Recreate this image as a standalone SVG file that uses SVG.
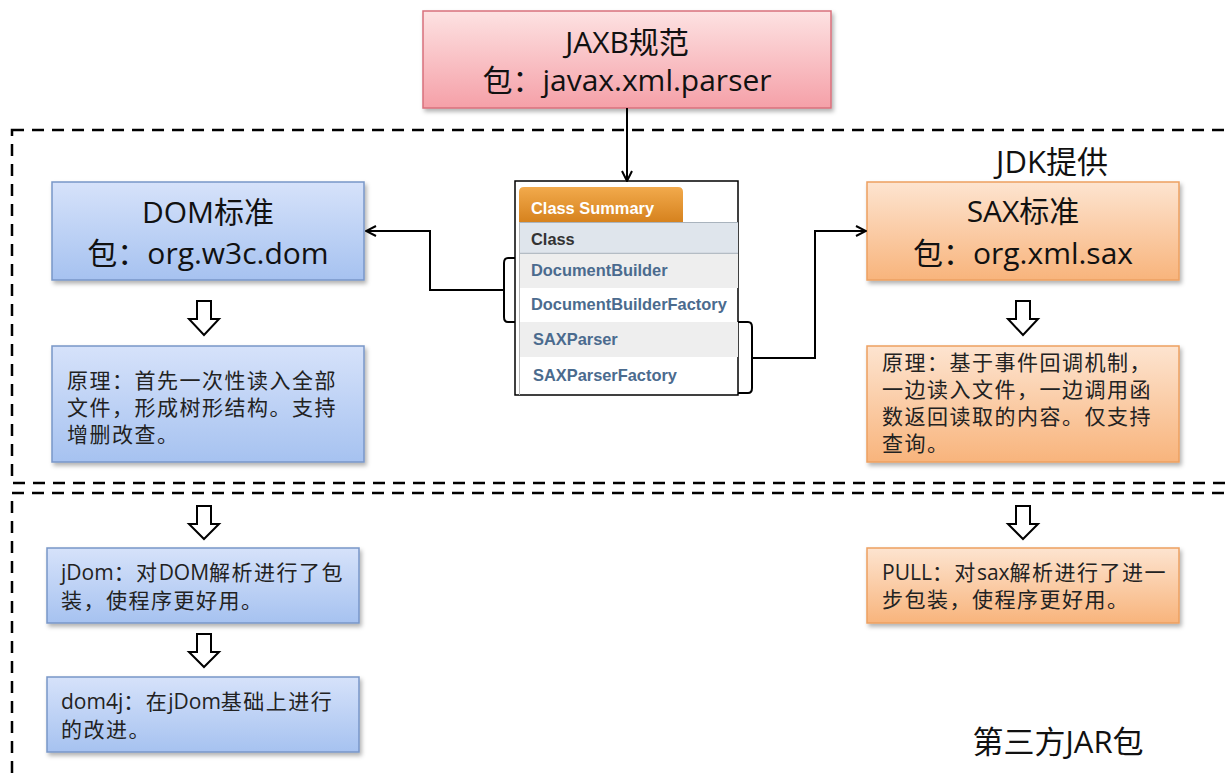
<svg xmlns="http://www.w3.org/2000/svg" width="1230" height="781" viewBox="0 0 1230 781">
  <style>
    .zone { fill: none; stroke: #000; stroke-width: 2.5; stroke-dasharray: 12 8; }
    .title { font-family: "Open Sans", "Noto Sans CJK SC", sans-serif; font-size: 30px; fill: #111; text-anchor: middle; }
    .label { font-family: "Open Sans", "Noto Sans CJK SC", sans-serif; font-size: 31px; fill: #111; text-anchor: middle; }
    .body { font-family: "Open Sans", "Noto Sans CJK SC", sans-serif; font-size: 21px; fill: #222; letter-spacing: 1.5px; }
    .body .lat { letter-spacing: 0; }
    .blue { fill: url(#gBlue); stroke: #7896c8; stroke-width: 1.5; filter: url(#shadow); }
    .orange { fill: url(#gOrange); stroke: #eda060; stroke-width: 1.5; filter: url(#shadow); }
    .pink { fill: url(#gPink); stroke: #d8707c; stroke-width: 1.5; filter: url(#shadow); }
    .wire { fill: none; stroke: #000; stroke-width: 2; }
    .hollow { fill: #fff; stroke: #000; stroke-width: 2; stroke-linejoin: miter; }
    .cls { font-family: "Liberation Sans", Arial, sans-serif; font-weight: bold; font-size: 16.4px; fill: #4b6b8e; }
  </style>
  <defs>
    <linearGradient id="gBlue" x1="0" y1="0" x2="0" y2="1">
      <stop offset="0" stop-color="#d6e2fa"/>
      <stop offset="1" stop-color="#a6c2f0"/>
    </linearGradient>
    <linearGradient id="gOrange" x1="0" y1="0" x2="0" y2="1">
      <stop offset="0" stop-color="#fde4d0"/>
      <stop offset="1" stop-color="#f8b47c"/>
    </linearGradient>
    <linearGradient id="gPink" x1="0" y1="0" x2="0" y2="1">
      <stop offset="0" stop-color="#fde2e2"/>
      <stop offset="1" stop-color="#f5a0a8"/>
    </linearGradient>
    <linearGradient id="gTab" x1="0" y1="0" x2="0" y2="1">
      <stop offset="0" stop-color="#f2aa4c"/>
      <stop offset="1" stop-color="#d6821e"/>
    </linearGradient>
    <filter id="shadow" x="-5%" y="-5%" width="115%" height="125%">
      <feDropShadow dx="2" dy="3" stdDeviation="2" flood-color="#000" flood-opacity="0.3"/>
    </filter>
    <marker id="arrow" viewBox="0 0 12 12" refX="11" refY="6" markerWidth="12" markerHeight="12" markerUnits="userSpaceOnUse" orient="auto">
      <path d="M1,1 L11,6 L1,11" fill="none" stroke="#000" stroke-width="2"/>
    </marker>
  </defs>

  <rect width="1230" height="781" fill="#fff"/>

  <!-- dashed zones: JDK-provided and third-party -->
  <rect class="zone" x="12" y="130" width="1240" height="353"/>
  <rect class="zone" x="12" y="493" width="1240" height="400"/>
  <text class="label" x="1052" y="173" font-size="30">JDK提供</text>
  <text class="label" x="1058" y="753">第三方JAR包</text>

  <!-- JAXB specification -->
  <g id="jaxb">
    <rect class="pink" x="423" y="11" width="408" height="97"/>
    <text class="title" x="627" y="53">JAXB规范</text>
    <text class="title" x="627" y="91">包：javax.xml.parser</text>
  </g>

  <!-- Class summary table -->
  <g id="class-summary">
    <rect x="515" y="181" width="223" height="214" fill="#fff" stroke="#000" stroke-width="1.5"/>
    <path d="M519,222 V192 Q519,187 524,187 H678 Q683,187 683,192 V222 Z" fill="url(#gTab)"/>
    <text x="531" y="214" font-family="Liberation Sans, Arial, sans-serif" font-weight="bold" font-size="16.4" fill="#fff">Class Summary</text>
    <rect x="520" y="222" width="218" height="32" fill="#dfe5ec"/>
    <line x1="520" y1="222.5" x2="738" y2="222.5" stroke="#a9b3bd" stroke-width="1"/>
    <line x1="520" y1="253.5" x2="738" y2="253.5" stroke="#b4bcc4" stroke-width="1.5"/>
    <text x="531" y="245" font-family="Liberation Sans, Arial, sans-serif" font-weight="bold" font-size="16.4" fill="#333">Class</text>
    <rect x="520" y="254" width="218" height="34" fill="#eeeeee"/>
    <rect x="520" y="322" width="218" height="35" fill="#eeeeee"/>
    <line x1="519.5" y1="222" x2="519.5" y2="395" stroke="#b8b8b8" stroke-width="1"/>
    <text class="cls" x="531" y="276">DocumentBuilder</text>
    <text class="cls" x="531" y="310">DocumentBuilderFactory</text>
    <text class="cls" x="533" y="345">SAXParser</text>
    <text class="cls" x="533" y="381">SAXParserFactory</text>
  </g>

  <!-- DOM branch -->
  <g id="dom">
    <rect class="blue" x="52" y="182" width="312" height="98"/>
    <text class="title" x="208" y="223">DOM标准</text>
    <text class="title" x="208" y="264">包：org.w3c.dom</text>
  </g>
  <g id="dom-principle">
    <rect class="blue" x="52" y="346" width="312" height="116"/>
    <text class="body" x="67" y="388">原理：首先一次性读入全部</text>
    <text class="body" x="67" y="415">文件，形成树形结构。支持</text>
    <text class="body" x="67" y="442">增删改查。</text>
  </g>
  <g id="jdom">
    <rect class="blue" x="47" y="548" width="312" height="75"/>
    <text class="body" x="61" y="580"><tspan class="lat">jDom</tspan>：对<tspan class="lat">DOM</tspan>解析进行了包</text>
    <text class="body" x="61" y="608">装，使程序更好用。</text>
  </g>
  <g id="dom4j">
    <rect class="blue" x="47" y="677" width="312" height="75"/>
    <text class="body" x="61" y="709"><tspan class="lat">dom4j</tspan>：在<tspan class="lat">jDom</tspan>基础上进行</text>
    <text class="body" x="61" y="737">的改进。</text>
  </g>

  <!-- SAX branch -->
  <g id="sax">
    <rect class="orange" x="867" y="182" width="312" height="98"/>
    <text class="title" x="1023" y="222">SAX标准</text>
    <text class="title" x="1023" y="264">包：org.xml.sax</text>
  </g>
  <g id="sax-principle">
    <rect class="orange" x="867" y="346" width="312" height="116"/>
    <text class="body" x="882" y="370">原理：基于事件回调机制，</text>
    <text class="body" x="882" y="397">一边读入文件，一边调用函</text>
    <text class="body" x="882" y="424">数返回读取的内容。仅支持</text>
    <text class="body" x="882" y="451">查询。</text>
  </g>
  <g id="pull">
    <rect class="orange" x="867" y="548" width="312" height="75"/>
    <text class="body" x="882" y="580"><tspan class="lat">PULL</tspan>：对<tspan class="lat">sax</tspan>解析进行了进一</text>
    <text class="body" x="882" y="607">步包装，使程序更好用。</text>
  </g>

  <!-- connectors -->
  <g id="connectors">
    <path class="wire" d="M627,108 V181" marker-end="url(#arrow)"/>
    <path class="wire" d="M515,258 H508 Q504,258 504,263 V317 Q504,322 508,322 H515"/>
    <path class="wire" d="M504,290 H430 V231 H366" marker-end="url(#arrow)"/>
    <path class="wire" d="M738,322 H748 Q752,322 752,327 V388 Q752,393 748,393 H738"/>
    <path class="wire" d="M752,358 H815 V231 H866" marker-end="url(#arrow)"/>
    <path class="hollow" d="M197,301 H211 V319 H219 L204,335 L189,319 H197 Z"/>
    <path class="hollow" d="M197,506 H211 V524 H219 L204,539 L189,524 H197 Z"/>
    <path class="hollow" d="M197,634 H211 V652 H219 L204,667 L189,652 H197 Z"/>
    <path class="hollow" d="M1016,301 H1030 V319 H1038 L1023,335 L1008,319 H1016 Z"/>
    <path class="hollow" d="M1016,506 H1030 V524 H1038 L1023,539 L1008,524 H1016 Z"/>
  </g>
</svg>
